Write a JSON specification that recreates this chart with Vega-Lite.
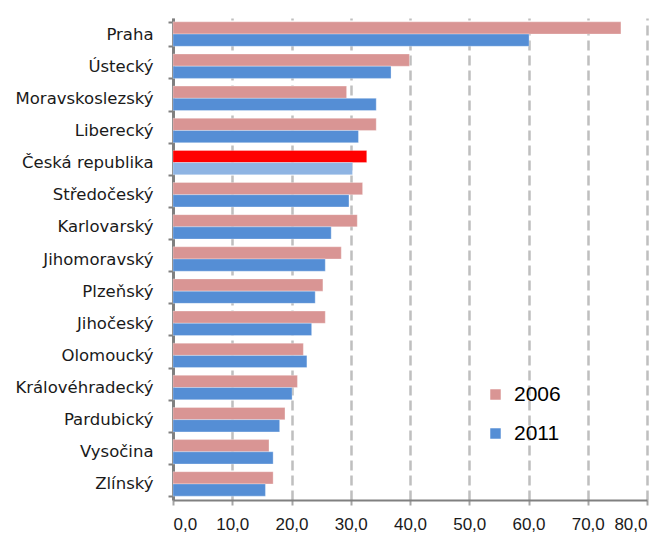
{
  "$schema": "https://vega.github.io/schema/vega-lite/v6.json",
  "width": 474,
  "height": 482,
  "autosize": "none",
  "padding": {"left": 173, "top": 18, "right": 19, "bottom": 37},
  "background": "white",
  "data": {"values": [
    {"region": "Praha", "year": "2006", "value": 75.6},
    {"region": "Praha", "year": "2011", "value": 60.1},
    {"region": "Ústecký", "year": "2006", "value": 39.9},
    {"region": "Ústecký", "year": "2011", "value": 36.8},
    {"region": "Moravskoslezský", "year": "2006", "value": 29.3},
    {"region": "Moravskoslezský", "year": "2011", "value": 34.3},
    {"region": "Liberecký", "year": "2006", "value": 34.3},
    {"region": "Liberecký", "year": "2011", "value": 31.3},
    {"region": "Česká republika", "year": "2006", "value": 32.7},
    {"region": "Česká republika", "year": "2011", "value": 30.3},
    {"region": "Středočeský", "year": "2006", "value": 32.0},
    {"region": "Středočeský", "year": "2011", "value": 29.7},
    {"region": "Karlovarský", "year": "2006", "value": 31.1},
    {"region": "Karlovarský", "year": "2011", "value": 26.7},
    {"region": "Jihomoravský", "year": "2006", "value": 28.4},
    {"region": "Jihomoravský", "year": "2011", "value": 25.7},
    {"region": "Plzeňský", "year": "2006", "value": 25.3},
    {"region": "Plzeňský", "year": "2011", "value": 24.0},
    {"region": "Jihočeský", "year": "2006", "value": 25.7},
    {"region": "Jihočeský", "year": "2011", "value": 23.4},
    {"region": "Olomoucký", "year": "2006", "value": 22.0},
    {"region": "Olomoucký", "year": "2011", "value": 22.6},
    {"region": "Královéhradecký", "year": "2006", "value": 21.0},
    {"region": "Královéhradecký", "year": "2011", "value": 20.1},
    {"region": "Pardubický", "year": "2006", "value": 18.9},
    {"region": "Pardubický", "year": "2011", "value": 18.0},
    {"region": "Vysočina", "year": "2006", "value": 16.2},
    {"region": "Vysočina", "year": "2011", "value": 16.9},
    {"region": "Zlínský", "year": "2006", "value": 16.9},
    {"region": "Zlínský", "year": "2011", "value": 15.6}
  ]},
  "mark": {"type": "bar", "stroke": "white", "strokeWidth": 0.5, "strokeOpacity": 0.6},
  "encoding": {
    "y": {
      "field": "region", "type": "nominal", "sort": null,
      "scale": {"paddingInner": 0.24, "paddingOuter": 0.12},
      "axis": {
        "title": null, "labelFont": "DejaVu Sans", "labelFontSize": 16.5, "labelColor": "#1a1a1a",
        "labelPadding": 15, "domainColor": "#808080", "domainWidth": 3, "tickColor": "#808080",
        "tickSize": 5, "tickWidth": 2, "tickBand": "extent", "grid": false
      }
    },
    "yOffset": {"field": "year", "type": "nominal", "sort": ["2006", "2011"], "scale": {"paddingInner": 0}},
    "x": {
      "field": "value", "type": "quantitative",
      "scale": {"domain": [0, 80], "nice": false},
      "axis": {
        "title": null, "values": [0, 10, 20, 30, 40, 50, 60, 70, 80],
        "labelExpr": "replace(format(datum.value, '.1f'), '.', ',')",
        "labelFont": "Liberation Sans", "labelFontSize": 17, "labelColor": "#1a1a1a",
        "labelPadding": 11, "domainColor": "#808080", "domainWidth": 2,
        "tickColor": "#A6A6A6", "tickSize": 5, "tickWidth": 2,
        "grid": true, "gridColor": "#BFBFBF", "gridWidth": 2.5, "gridDash": [10, 5]
      }
    },
    "color": {
      "condition": [
        {"test": "datum.region === 'Česká republika' && datum.year === '2006'", "value": "#FF0000"},
        {"test": "datum.region === 'Česká republika' && datum.year === '2011'", "value": "#8EB4E3"}
      ],
      "field": "year", "type": "nominal",
      "scale": {"domain": ["2006", "2011"], "range": ["#D99594", "#558ED5"]},
      "legend": {
        "title": null, "orient": "none", "legendX": 312, "legendY": 366,
        "symbolType": "square", "symbolSize": 110, "symbolStrokeWidth": 0,
        "labelFont": "Liberation Sans", "labelFontSize": 21, "labelColor": "#000000",
        "labelOffset": 8, "rowPadding": 17
      }
    }
  },
  "config": {"view": {"stroke": null}}
}
